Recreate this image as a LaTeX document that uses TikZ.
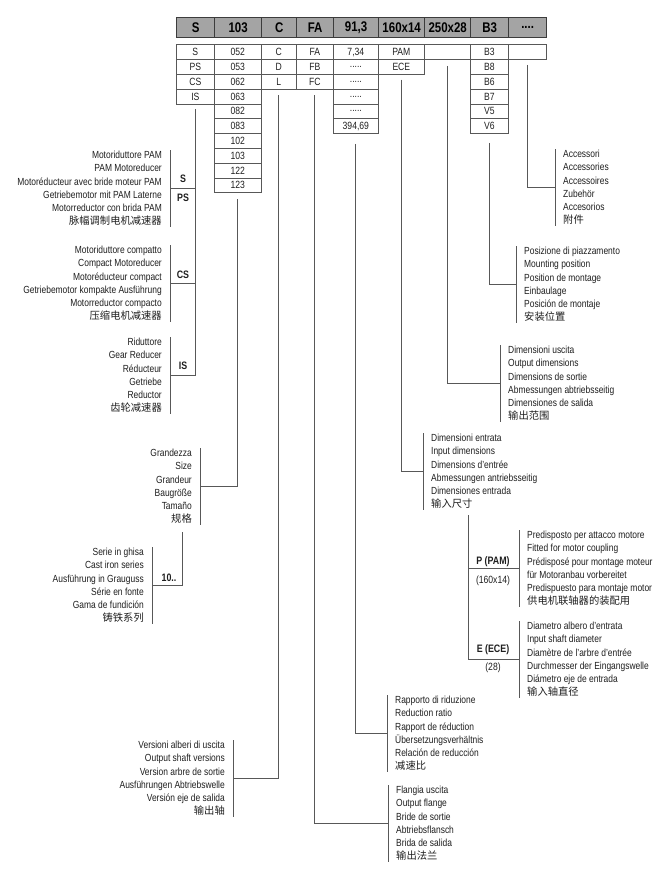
\documentclass[tikz,border=0pt]{standalone}
\usepackage{fontspec}
\setmainfont{Liberation Sans}[FakeStretch=0.82]
\newfontfamily\cjk{Noto Sans CJK SC}
\usetikzlibrary{positioning,calc}
\definecolor{hdrgray}{HTML}{A4A4A4}
\definecolor{hdrline}{HTML}{3C3C3C}
\definecolor{lngray}{HTML}{585858}
\definecolor{txtcol}{HTML}{1E1E1E}
\newcommand{\fourdots}{....}
\newcommand{\fivedots}{.....}
\newcommand{\rbar}[1]{\draw[ln] ([xshift=8pt]#1.north east) -- ([xshift=8pt]#1.south east);
  \coordinate (#1b) at ([xshift=8pt]#1.east);}
\newcommand{\lbar}[1]{\draw[ln] ([xshift=-8pt]#1.north west) -- ([xshift=-8pt]#1.south west);
  \coordinate (#1b) at ([xshift=-8pt]#1.west);}

\begin{document}
\begin{tikzpicture}[x=1pt,y=-1pt]
\tikzstyle{ln}=[draw=lngray,line width=1pt]
\tikzstyle{hdr}=[draw=hdrline,fill=hdrgray,line width=1.3pt,anchor=north west,minimum height=20pt,inner sep=0pt,font=\bfseries\fontsize{14}{14}\selectfont]
\tikzstyle{cell}=[draw=lngray,line width=0.7pt,anchor=north west,minimum height=14.8pt,inner sep=0pt,text=txtcol,font=\fontsize{10.5}{11}\selectfont]
\tikzstyle{txt}=[inner xsep=0pt,inner ysep=1pt,text=txtcol,font=\fontsize{10.3}{13.2}\selectfont]
\tikzstyle{rtxt}=[txt,align=right,anchor=north east]
\tikzstyle{ltxt}=[txt,align=left,anchor=north west]
\tikzstyle{lab}=[inner sep=0pt,text=txtcol,font=\bfseries\fontsize{10.8}{12}\selectfont]
\tikzstyle{sub}=[inner sep=0pt,text=txtcol,font=\fontsize{10.5}{12}\selectfont]
\useasboundingbox (0,0) rectangle (668,887);

\foreach \lab/\x/\w [count=\i] in {S/176/38,103/214/47,C/261/35,FA/296/37,{91,3}/333/45,160x14/378/46,250x28/424/46,B3/470/38,\fourdots/508/38}
  \node[hdr,minimum width=\w pt] (hd\i) at (\x,17) {\lab};

\foreach \t [count=\i] in {S,PS,CS,IS}
  \node[cell,minimum width=38pt] (a\i) at (176,{44.3+14.8*(\i-1)}) {\t};
\foreach \t [count=\i] in {052,053,062,063,082,083,102,103,122,123}
  \node[cell,minimum width=47pt] (b\i) at (214,{44.3+14.8*(\i-1)}) {\t};
\foreach \t [count=\i] in {C,D,L}
  \node[cell,minimum width=35pt] (c\i) at (261,{44.3+14.8*(\i-1)}) {\t};
\foreach \t [count=\i] in {FA,FB,FC}
  \node[cell,minimum width=37pt] (d\i) at (296,{44.3+14.8*(\i-1)}) {\t};
\foreach \t [count=\i] in {{7,34},\fivedots,\fivedots,\fivedots,\fivedots,{394,69}}
  \node[cell,minimum width=45pt] (e\i) at (333,{44.3+14.8*(\i-1)}) {\t};
\foreach \t [count=\i] in {PAM,ECE}
  \node[cell,minimum width=46pt] (f\i) at (378,{44.3+14.8*(\i-1)}) {\t};
\node[cell,minimum width=46pt] (g1) at (424,44.3) {};
\foreach \t [count=\i] in {B3,B8,B6,B7,V5,V6}
  \node[cell,minimum width=38pt] (h\i) at (470,{44.3+14.8*(\i-1)}) {\t};
\node[cell,minimum width=38pt] (i1) at (508,44.3) {};

\node[rtxt] (tS) at (162,150) {Motoriduttore PAM\\PAM Motoreducer\\Motoréducteur avec bride moteur PAM\\Getriebemotor mit PAM Laterne\\Motorreductor con brida PAM\\{\cjk 脉幅调制电机减速器}};
\node[rtxt] (tCS) at (162,245) {Motoriduttore compatto\\Compact Motoreducer\\Motoréducteur compact\\Getriebemotor kompakte Ausführung\\Motorreductor compacto\\{\cjk 压缩电机减速器}};
\node[rtxt] (tIS) at (162,337) {Riduttore\\Gear Reducer\\Réducteur\\Getriebe\\Reductor\\{\cjk 齿轮减速器}};
\node[rtxt] (tGR) at (192,448) {Grandezza\\Size\\Grandeur\\Baugröße\\Tamaño\\{\cjk 规格}};
\node[rtxt] (tSE) at (144,547) {Serie in ghisa\\Cast iron series\\Ausführung in Grauguss\\Série en fonte\\Gama de fundición\\{\cjk 铸铁系列}};
\node[rtxt] (tVE) at (225,740) {Versioni alberi di uscita\\Output shaft versions\\Version arbre de sortie\\Ausführungen Abtriebswelle\\Versión eje de salida\\{\cjk 输出轴}};
\node[ltxt] (tFL) at (396,785) {Flangia uscita\\Output flange\\Bride de sortie\\Abtriebsflansch\\Brida de salida\\{\cjk 输出法兰}};
\node[ltxt] (tRA) at (395,695) {Rapporto di riduzione\\Reduction ratio\\Rapport de réduction\\Übersetzungsverhältnis\\Relación de reducción\\{\cjk 减速比}};
\node[ltxt] (tDE) at (431,433) {Dimensioni entrata\\Input dimensions\\Dimensions d'entrée\\Abmessungen antriebsseitig\\Dimensiones entrada\\{\cjk 输入尺寸}};
\node[ltxt] (tDU) at (508,345) {Dimensioni uscita\\Output dimensions\\Dimensions de sortie\\Abmessungen abtriebsseitig\\Dimensiones de salida\\{\cjk 输出范围}};
\node[ltxt] (tMP) at (524,246) {Posizione di piazzamento\\Mounting position\\Position de montage\\Einbaulage\\Posición de montaje\\{\cjk 安装位置}};
\node[ltxt] (tAC) at (563,149) {Accessori\\Accessories\\Accessoires\\Zubehör\\Accesorios\\{\cjk 附件}};
\node[ltxt] (tPR) at (527,530) {Predisposto per attacco motore\\Fitted for motor coupling\\Prédisposé pour montage moteur\\für Motoranbau vorbereitet\\Predispuesto para montaje motor\\{\cjk 供电机联轴器的装配用}};
\node[ltxt] (tDI) at (527,621) {Diametro albero d'entrata\\Input shaft diameter\\Diamètre de l'arbre d'entrée\\Durchmesser der Eingangswelle\\Diámetro eje de entrada\\{\cjk 输入轴直径}};

\rbar{tS}
\rbar{tCS}
\rbar{tIS}
\rbar{tGR}
\rbar{tSE}
\rbar{tVE}
\lbar{tFL}
\lbar{tRA}
\lbar{tDE}
\lbar{tDU}
\lbar{tMP}
\lbar{tAC}
\lbar{tPR}
\lbar{tDI}

\node[lab] (lS) at (183,179) {S};
\node[lab] (lPS) at (183,198) {PS};
\node[lab] (lCS) at (183,275) {CS};
\node[lab] (lIS) at (183,366) {IS};
\node[lab] (l10) at (169,578) {10..};
\node[lab] (lP) at (493,562) {P (PAM)};
\node[sub] (lP2) at (493,581) {(160x14)};
\node[lab] (lE) at (493,650) {E (ECE)};
\node[sub] (lE2) at (493,668) {(28)};

\coordinate (ser) at (182,532);
\coordinate (pe) at (468,515);

\draw[ln] ([yshift=-5pt]a4.south) |- (tISb);
\draw[ln] (tSb) -- (tSb -| a4.south);
\draw[ln] (tCSb) -- (tCSb -| a4.south);
\draw[ln] ([yshift=-6pt]b10.south) |- (tGRb);
\draw[ln] (ser) |- (tSEb);
\draw[ln] ([yshift=-6pt]c3.south) |- (tVEb);
\draw[ln] ([yshift=-6pt]d3.south) |- (tFLb);
\draw[ln] ([yshift=-10pt]e6.south) |- (tRAb);
\draw[ln] ([yshift=-5pt]f2.south) |- (tDEb);
\draw[ln] ([yshift=-6pt]g1.south) |- (tDUb);
\draw[ln] ([yshift=-9pt]h6.south) |- (tMPb);
\draw[ln] ([yshift=-5pt]i1.south) |- (tACb);
\draw[ln] (pe) |- (tDIb);
\draw[ln] (tPRb) -- (tPRb -| pe);
\end{tikzpicture}
\end{document}
